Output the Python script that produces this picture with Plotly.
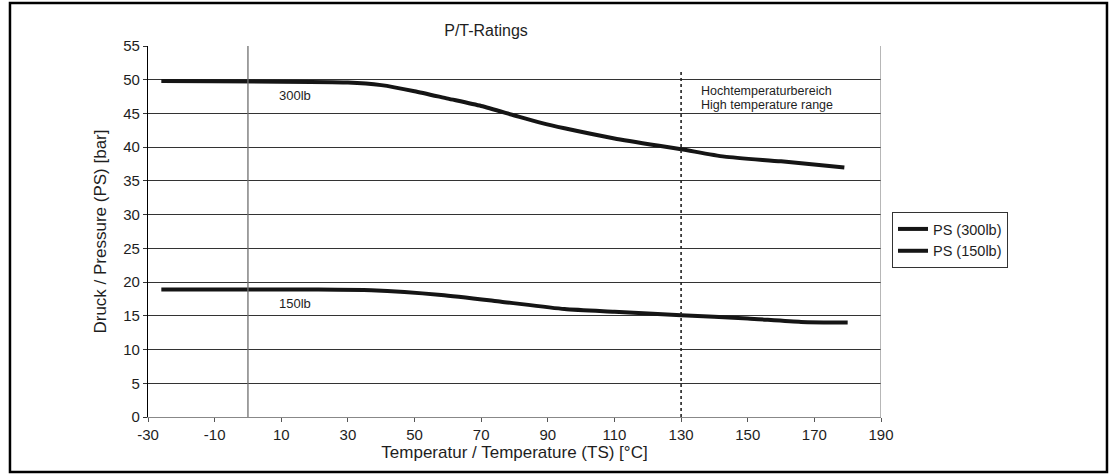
import plotly.graph_objects as go

# Data
temp_300 = [-26, 30, 40, 50, 60, 70, 80, 88, 95, 110, 130, 143, 160, 179]
ps_300 = [49.8, 49.6, 49.2, 48.3, 47.2, 46.1, 44.7, 43.6, 42.8, 41.3, 39.7, 38.6, 37.9, 37.0]

temp_150 = [-26, 20, 37, 58, 76, 95, 110, 130, 150, 166, 180]
ps_150 = [18.9, 18.9, 18.8, 18.1, 17.1, 16.0, 15.6, 15.1, 14.6, 14.1, 14.0]

x_ticks = [-30, -10, 10, 30, 50, 70, 90, 110, 130, 150, 170, 190]
y_ticks = [0, 5, 10, 15, 20, 25, 30, 35, 40, 45, 50, 55]

high_temp_start = 130

FONT = "Liberation Sans, Arial, sans-serif"
TXT = "#1e1e1e"

fig = go.Figure()
fig.add_trace(go.Scatter(x=temp_300, y=ps_300, mode="lines", name="PS (300lb)",
                         line=dict(color="#151515", width=4, shape="spline", smoothing=0.6)))
fig.add_trace(go.Scatter(x=temp_150, y=ps_150, mode="lines", name="PS (150lb)",
                         line=dict(color="#151515", width=4, shape="spline", smoothing=0.6)))

# vertical line at 0 °C
fig.add_shape(type="line", x0=0, x1=0, y0=0, y1=55, xref="x", yref="y",
              line=dict(color="#6f6f6f", width=1.3), layer="above")
# dashed line marking the high-temperature range
fig.add_shape(type="line", x0=high_temp_start, x1=high_temp_start, y0=0, y1=51.2, xref="x", yref="y",
              line=dict(color="#222222", width=1.6, dash="dot"), layer="above")
# right border of plot
fig.add_shape(type="line", x0=190, x1=190, y0=0, y1=55, xref="x", yref="y",
              line=dict(color="#888888", width=1.2))
# outer frame
fig.add_shape(type="rect", xref="paper", yref="paper",
              x0=-0.1883, x1=1.3083, y0=-0.148, y1=1.1159,
              line=dict(color="black", width=2.5), fillcolor="rgba(0,0,0,0)")

fig.add_annotation(x=14, y=47.6, text="300lb", showarrow=False, xref="x", yref="y",
                   font=dict(size=13, color=TXT, family=FONT))
fig.add_annotation(x=14, y=16.9, text="150lb", showarrow=False, xref="x", yref="y",
                   font=dict(size=13, color=TXT, family=FONT))
fig.add_annotation(x=135.5, y=48.4, text="Hochtemperaturbereich",
                   showarrow=False, xref="x", yref="y", xanchor="left",
                   font=dict(size=12.5, color=TXT, family=FONT))
fig.add_annotation(x=135.5, y=46.3, text="High temperature range",
                   showarrow=False, xref="x", yref="y", xanchor="left",
                   font=dict(size=12.5, color=TXT, family=FONT))

fig.update_layout(
    width=1114, height=476,
    margin=dict(l=148, r=233, t=46, b=59),
    paper_bgcolor="white", plot_bgcolor="white",
    font=dict(family=FONT, size=15, color=TXT),
    title=dict(text="P/T-Ratings", x=(486 - 148) / 733, xref="paper", xanchor="center",
               y=1 - 30 / 476, yanchor="middle", yref="container",
               font=dict(size=16, color=TXT, family=FONT)),
    showlegend=True,
    legend=dict(x=(892 - 148) / 733, y=(417 - 212) / 371, xanchor="left", yanchor="top",
                bordercolor="#333333", borderwidth=1, bgcolor="white",
                font=dict(size=14.5, color=TXT, family=FONT),
                tracegroupgap=0, itemwidth=30),
    xaxis=dict(range=[-30, 190], tickvals=x_ticks, ticktext=[str(v) for v in x_ticks],
               showgrid=False, zeroline=False, showline=True, linecolor="#888888", linewidth=1.2,
               ticks="outside", ticklen=4, tickcolor="#555555",
               title=dict(text="Temperatur / Temperature (TS) [°C]", font=dict(size=17), standoff=4),
               tickfont=dict(size=15)),
    yaxis=dict(range=[0, 55], tickvals=y_ticks, ticktext=[str(v) for v in y_ticks],
               showgrid=True, gridcolor="#333333", gridwidth=1, zeroline=False,
               showline=True, linecolor="black", linewidth=1.2,
               ticks="outside", ticklen=4, tickcolor="#333333",
               title=dict(text="Druck / Pressure (PS) [bar]", font=dict(size=17), standoff=12),
               tickfont=dict(size=15)),
)

fig.write_html("out.html", config={"displayModeBar": False},
               post_script="document.body.style.margin='0px';")
